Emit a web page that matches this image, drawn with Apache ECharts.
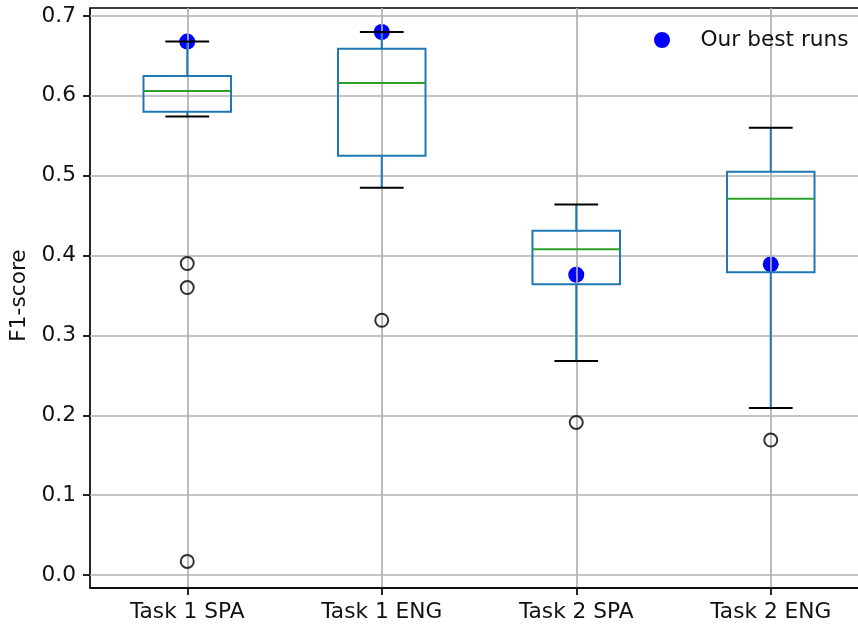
<!DOCTYPE html>
<html>
<head>
<meta charset="utf-8">
<script src="https://cdn.jsdelivr.net/npm/echarts@6/dist/echarts.min.js"></script>
<style>
  html, body { margin: 0; padding: 0; background: #fff; }
  #chart { width: 858px; height: 628px; }
</style>
</head>
<body>
<div id="chart"></div>
<script>
// F1-score distribution of all submitted runs per task, with our best run highlighted
const categories = ['Task 1 SPA', 'Task 1 ENG', 'Task 2 SPA', 'Task 2 ENG'];
const whiskerLow  = [0.574, 0.485, 0.268, 0.209];
const quartile1   = [0.580, 0.525, 0.364, 0.379];
const medians     = [0.606, 0.616, 0.408, 0.471];
const quartile3   = [0.625, 0.659, 0.431, 0.505];
const whiskerHigh = [0.668, 0.680, 0.464, 0.560];
const outliers = [
  [0.390, 0.360, 0.017],
  [0.319],
  [0.191],
  [0.169]
];
const bestRuns = [0.668, 0.680, 0.376, 0.389];
const yTicks = [0, 0.1, 0.2, 0.3, 0.4, 0.5, 0.6, 0.7];

const FONT = 'DejaVu Sans';
const FS = 21.7;
const TEXT = '#111';
const BOX = '#1f77b4';
const MEDIAN = '#2ca02c';
const GRID = '#b0b0b0';

const boxData = categories.map((c, i) =>
  [i, whiskerLow[i], quartile1[i], medians[i], quartile3[i], whiskerHigh[i]]);
const outlierData = [];
outliers.forEach((vals, i) => vals.forEach(v => outlierData.push([i, v])));
const bestData = bestRuns.map((v, i) => [i, v]);

function renderBox(params, api) {
  const x = api.value(0);
  const low = api.coord([x, api.value(1)]);
  const q1 = api.coord([x, api.value(2)]);
  const med = api.coord([x, api.value(3)]);
  const q3 = api.coord([x, api.value(4)]);
  const high = api.coord([x, api.value(5)]);
  const band = api.size([1, 0])[0];
  const bw = band * 0.45;
  const cw = bw / 2;
  const cx = q1[0];
  const lw = 2;
  const line = (x1, y1, x2, y2, color) => ({
    type: 'line',
    shape: { x1, y1, x2, y2 },
    style: { stroke: color, lineWidth: lw, fill: null }
  });
  return {
    type: 'group',
    children: [
      line(cx, q1[1], cx, low[1], BOX),
      line(cx, q3[1], cx, high[1], BOX),
      line(cx - cw / 2, low[1], cx + cw / 2, low[1], '#000'),
      line(cx - cw / 2, high[1], cx + cw / 2, high[1], '#000'),
      {
        type: 'rect',
        shape: { x: cx - bw / 2, y: q3[1], width: bw, height: q1[1] - q3[1] },
        style: { stroke: BOX, lineWidth: lw, fill: null }
      },
      line(cx - bw / 2, med[1], cx + bw / 2, med[1], MEDIAN)
    ]
  };
}

const chart = echarts.init(document.getElementById('chart'), null, { renderer: 'canvas' });
chart.setOption({
  animation: false,
  backgroundColor: '#fff',
  textStyle: { fontFamily: FONT },
  legend: {
    data: ['Our best runs'],
    left: 649,
    top: 24,
    icon: 'circle',
    itemWidth: 67,
    itemHeight: 16,
    textStyle: { fontFamily: FONT, fontSize: FS, color: TEXT }
  },
  grid: [
    // outer frame and category axis (right edge runs just past the canvas)
    { left: 90, width: 778, top: 8, bottom: 40, outerBoundsMode: 'none', containLabel: false,
      show: true, borderColor: '#000', borderWidth: 1.7, backgroundColor: 'transparent' },
    // value area spanning 0.0 – 0.7
    { left: 90, width: 778, top: 16, bottom: 53, outerBoundsMode: 'none', containLabel: false }
  ],
  xAxis: [
    {
      gridIndex: 0,
      type: 'category',
      data: categories,
      z: 1,
      axisLine: { show: true, lineStyle: { color: '#000', width: 1.7 } },
      axisTick: { show: true, alignWithLabel: true, length: 7, lineStyle: { color: '#000', width: 1.7 } },
      axisLabel: { fontFamily: FONT, fontSize: FS, color: TEXT, margin: 13 },
      splitLine: { show: true, alignWithLabel: true, lineStyle: { color: GRID, width: 1.7 } }
    },
    {
      gridIndex: 1,
      type: 'category',
      data: categories,
      show: false
    }
  ],
  yAxis: [
    { gridIndex: 0, type: 'value', min: 0, max: 1, show: false },
    {
      gridIndex: 1,
      type: 'value',
      min: yTicks[0],
      max: yTicks[yTicks.length - 1],
      interval: 0.1,
      z: 1,
      name: 'F1-score',
      nameLocation: 'middle',
      nameGap: 57,
      nameTextStyle: { fontFamily: FONT, fontSize: FS, color: TEXT },
      axisLine: { show: false },
      axisTick: { show: true, length: 7, lineStyle: { color: '#000', width: 1.7 } },
      axisLabel: { fontFamily: FONT, fontSize: FS, color: TEXT, margin: 14, formatter: v => v.toFixed(1) },
      splitLine: { show: true, lineStyle: { color: GRID, width: 1.7 } }
    }
  ],
  series: [
    {
      name: 'Our best runs',
      type: 'scatter',
      xAxisIndex: 1,
      yAxisIndex: 1,
      z: 0,
      symbol: 'circle',
      symbolSize: 16,
      itemStyle: { color: '#0000ff', opacity: 1 },
      data: bestData
    },
    {
      type: 'custom',
      xAxisIndex: 1,
      yAxisIndex: 1,
      z: 2,
      renderItem: renderBox,
      encode: { x: 0, y: [1, 2, 3, 4, 5] },
      data: boxData
    },
    {
      type: 'scatter',
      xAxisIndex: 1,
      yAxisIndex: 1,
      z: 3,
      symbol: 'circle',
      symbolSize: 13,
      itemStyle: { color: 'transparent', borderColor: '#000', borderWidth: 2 },
      data: outlierData
    }
  ]
});
</script>
</body>
</html>
